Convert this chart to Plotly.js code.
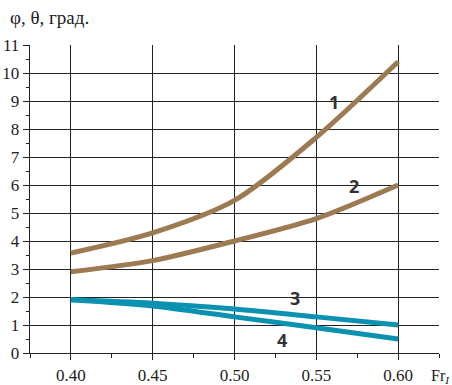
<!DOCTYPE html>
<html><head><meta charset="utf-8">
<script src="https://cdn.plot.ly/plotly-3.0.1.min.js"></script>
<style>body{margin:0;background:#fff}#c{width:452px;height:385px}</style>
</head><body><div id="c"></div>
<script>
const frX = [0.40, 0.45, 0.50, 0.55, 0.60];
const curve1 = [3.57, 4.29, 5.45, 7.7, 10.4];
const curve2 = [2.9, 3.3, 4.0, 4.8, 6.0];
const curve3 = [1.9, 1.78, 1.57, 1.29, 1.0];
const curve4 = [1.9, 1.68, 1.29, 0.9, 0.5];
const curveLabels = ['1', '2', '3', '4'];
const labelX = [0.561, 0.573, 0.537, 0.529];
const labelY = [8.95, 5.95, 1.95, 0.45];

const brown = '#9c7a52', teal = '#0a92b0';
const serif = '"Liberation Serif", "DejaVu Serif", serif';
const mk = (y, c) => ({x: frX, y: y, type: 'scatter', mode: 'lines',
  line: {color: c, width: 5, shape: 'spline', smoothing: 0.8}, hoverinfo: 'skip'});
const data = [mk(curve1, brown), mk(curve2, brown), mk(curve3, teal), mk(curve4, teal)];

const ann = curveLabels.map((t, i) => ({x: labelX[i], y: labelY[i], xref: 'x', yref: 'y',
  text: '<b>' + t + '</b>', showarrow: false,
  font: {family: 'Open Sans, sans-serif', size: 18, color: '#333'}}));
ann.push({xref: 'paper', yref: 'paper', x: -0.055, y: 1.088, xanchor: 'left', yanchor: 'middle',
  text: 'φ, θ, град.', showarrow: false,
  font: {family: serif, size: 19, color: '#222'}});
ann.push({xref: 'paper', yref: 'paper', x: 1.032, y: -0.075, xanchor: 'right', yanchor: 'middle',
  text: 'Fr<sub><i>I</i></sub>', showarrow: false,
  font: {family: serif, size: 16, color: '#222'}});

const tf = {family: serif, size: 17, color: '#222'};
const layout = {
  width: 452, height: 385,
  margin: {l: 30, r: 13, t: 45, b: 32},
  paper_bgcolor: '#fff', plot_bgcolor: '#fff',
  showlegend: false,
  font: tf,
  xaxis: {range: [0.375, 0.625], tickvals: [0.40, 0.45, 0.50, 0.55, 0.60],
    ticktext: ['0.40', '0.45', '0.50', '0.55', '0.60'], tickfont: tf,
    showgrid: true, gridcolor: '#222', gridwidth: 1,
    showline: true, linecolor: '#222', linewidth: 1.3,
    ticks: 'outside', ticklen: 6, tickcolor: '#222', zeroline: false,
    minor: {tickvals: [0.375, 0.425, 0.475, 0.525, 0.575, 0.625], ticks: 'outside', ticklen: 4, tickcolor: '#222', showgrid: false},
    fixedrange: true},
  yaxis: {range: [0, 11], dtick: 1, tick0: 0, tickfont: tf,
    showgrid: true, gridcolor: '#222', gridwidth: 1,
    showline: true, linecolor: '#222', linewidth: 1.3,
    ticks: 'outside', ticklen: 6, tickcolor: '#222', zeroline: false, ticklabelstandoff: 0,
    minor: {dtick: 0.5, ticks: 'outside', ticklen: 3, tickcolor: '#222', showgrid: false},
    fixedrange: true},
  annotations: ann
};
Plotly.newPlot('c', data, layout, {staticPlot: true});
</script></body></html>
